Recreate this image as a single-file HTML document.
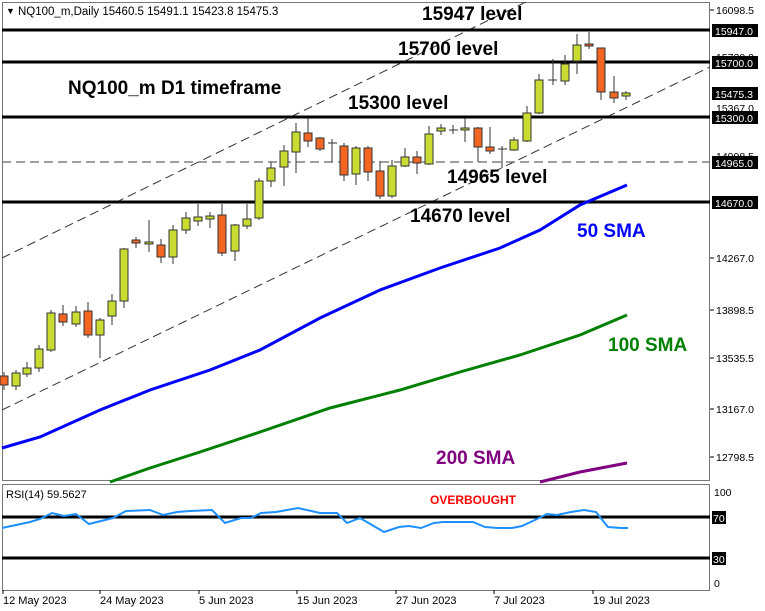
<!DOCTYPE html>
<html><head><meta charset="utf-8"><style>
html,body{margin:0;padding:0;background:#fff;}
svg{display:block;font-family:"Liberation Sans",sans-serif;}
.b{font-weight:bold;font-size:19px;fill:#000;}
.ax{font-size:10.5px;fill:#000;}
.bx{font-size:10.5px;fill:#fff;}
</style></head><body>
<svg width="765" height="611" viewBox="0 0 765 611" xmlns="http://www.w3.org/2000/svg">
<rect x="0" y="0" width="765" height="611" fill="#fff"/>
<!-- main panel -->
<rect x="2.5" y="2.5" width="707" height="478" fill="none" stroke="#777" stroke-width="1"/>
<text x="6" y="14" font-size="9">▼</text>
<text x="18" y="15" font-size="11.5" fill="#000">NQ100_m,Daily  15460.5 15491.1 15423.8 15475.3</text>

<!-- channel -->
<line x1="2" y1="258" x2="530" y2="0" stroke="#333" stroke-width="1" stroke-dasharray="9,5"/>
<line x1="2" y1="410" x2="710" y2="67" stroke="#333" stroke-width="1" stroke-dasharray="9,5"/>

<!-- levels -->
<line x1="2" y1="30" x2="710" y2="30" stroke="#000" stroke-width="3"/>
<line x1="2" y1="62" x2="710" y2="62" stroke="#000" stroke-width="3"/>
<line x1="2" y1="117" x2="710" y2="117" stroke="#000" stroke-width="3"/>
<line x1="2" y1="162" x2="710" y2="162" stroke="#666" stroke-width="1.2" stroke-dasharray="9,5"/>
<line x1="2" y1="202" x2="710" y2="202" stroke="#000" stroke-width="3"/>

<!-- SMAs -->
<polyline fill="none" stroke="#0000ff" stroke-width="3" points="2,448 40,437 100,410 150,390 210,370 260,350 320,318 380,290 440,268 500,248 540,230 580,205 627,185"/>
<polyline fill="none" stroke="#008000" stroke-width="3" points="110,482 150,468 200,452 260,432 330,408 400,390 460,372 520,355 580,335 627,315"/>
<polyline fill="none" stroke="#800080" stroke-width="3" points="540,482 580,472 627,463"/>

<!-- candles -->
<g stroke="#333" stroke-width="1">
<line x1="4" y1="372" x2="4" y2="390"/><rect x="0" y="376" width="8" height="9" fill="#f26522"/>
<line x1="16" y1="370" x2="16" y2="390"/><rect x="12" y="373" width="8" height="13" fill="#c8dc32"/>
<line x1="27" y1="362" x2="27" y2="377"/><rect x="23" y="368" width="8" height="6" fill="#c8dc32"/>
<line x1="39" y1="345" x2="39" y2="372"/><rect x="35" y="349" width="8" height="19" fill="#c8dc32"/>
<line x1="51" y1="310" x2="51" y2="352"/><rect x="47" y="313" width="8" height="37" fill="#c8dc32"/>
<line x1="63" y1="305" x2="63" y2="326"/><rect x="59" y="314" width="8" height="8" fill="#f26522"/>
<line x1="76" y1="306" x2="76" y2="327"/><rect x="72" y="312" width="8" height="12" fill="#c8dc32"/>
<line x1="88" y1="302" x2="88" y2="338"/><rect x="84" y="311" width="8" height="24" fill="#f26522"/>
<line x1="100" y1="318" x2="100" y2="358"/><rect x="96" y="320" width="8" height="15" fill="#c8dc32"/>
<line x1="112" y1="294" x2="112" y2="325"/><rect x="108" y="301" width="8" height="15" fill="#c8dc32"/>
<line x1="124" y1="248" x2="124" y2="308"/><rect x="120" y="249" width="8" height="52" fill="#c8dc32"/>
<line x1="136" y1="237" x2="136" y2="248"/><rect x="132" y="240" width="8" height="3" fill="#f26522"/>
<line x1="149" y1="220" x2="149" y2="252"/><rect x="145" y="242" width="8" height="2" fill="#c8dc32"/>
<line x1="161" y1="239" x2="161" y2="263"/><rect x="157" y="245" width="8" height="12" fill="#f26522"/>
<line x1="173" y1="225" x2="173" y2="264"/><rect x="169" y="230" width="8" height="27" fill="#c8dc32"/>
<line x1="186" y1="212" x2="186" y2="234"/><rect x="182" y="218" width="8" height="12" fill="#c8dc32"/>
<line x1="198" y1="204" x2="198" y2="226"/><rect x="194" y="217" width="8" height="4" fill="#c8dc32"/>
<line x1="210" y1="212" x2="210" y2="228"/><rect x="206" y="216" width="8" height="3" fill="#c8dc32"/>
<line x1="222" y1="204" x2="222" y2="256"/><rect x="218" y="215" width="8" height="38" fill="#f26522"/>
<line x1="235" y1="224" x2="235" y2="261"/><rect x="231" y="225" width="8" height="26" fill="#c8dc32"/>
<line x1="247" y1="204" x2="247" y2="229"/><rect x="243" y="219" width="8" height="7" fill="#c8dc32"/>
<line x1="259" y1="178" x2="259" y2="220"/><rect x="255" y="181" width="8" height="37" fill="#c8dc32"/>
<line x1="271" y1="162" x2="271" y2="187"/><rect x="267" y="168" width="8" height="13" fill="#c8dc32"/>
<line x1="284" y1="145" x2="284" y2="186"/><rect x="280" y="151" width="8" height="16" fill="#c8dc32"/>
<line x1="296" y1="123" x2="296" y2="173"/><rect x="292" y="132" width="8" height="20" fill="#c8dc32"/>
<line x1="308" y1="118" x2="308" y2="147"/><rect x="304" y="133" width="8" height="8" fill="#f26522"/>
<line x1="320" y1="137" x2="320" y2="151"/><rect x="316" y="138" width="8" height="11" fill="#f26522"/>
<line x1="332" y1="139" x2="332" y2="162"/><line x1="328" y1="143" x2="337" y2="143"/>
<line x1="344" y1="143" x2="344" y2="181"/><rect x="340" y="146" width="8" height="29" fill="#f26522"/>
<line x1="356" y1="146" x2="356" y2="185"/><rect x="352" y="148" width="8" height="26" fill="#c8dc32"/>
<line x1="368" y1="146" x2="368" y2="181"/><rect x="364" y="148" width="8" height="24" fill="#f26522"/>
<line x1="380" y1="161" x2="380" y2="199"/><rect x="376" y="171" width="8" height="25" fill="#f26522"/>
<line x1="392" y1="160" x2="392" y2="198"/><rect x="388" y="166" width="8" height="30" fill="#c8dc32"/>
<line x1="405" y1="148" x2="405" y2="167"/><rect x="401" y="157" width="8" height="9" fill="#c8dc32"/>
<line x1="417" y1="151" x2="417" y2="174"/><rect x="413" y="157" width="8" height="6" fill="#f26522"/>
<line x1="429" y1="126" x2="429" y2="165"/><rect x="425" y="134" width="8" height="30" fill="#c8dc32"/>
<line x1="441" y1="124" x2="441" y2="135"/><rect x="437" y="128" width="8" height="3" fill="#c8dc32"/>
<line x1="453" y1="125" x2="453" y2="134"/><line x1="449" y1="130" x2="458" y2="130"/>
<line x1="465" y1="118" x2="465" y2="142"/><rect x="461" y="128" width="8" height="2" fill="#c8dc32"/>
<line x1="478" y1="127" x2="478" y2="162"/><rect x="474" y="128" width="8" height="19" fill="#f26522"/>
<line x1="490" y1="127" x2="490" y2="154"/><rect x="486" y="147" width="8" height="4" fill="#f26522"/>
<line x1="502" y1="146" x2="502" y2="168"/><line x1="498" y1="149" x2="507" y2="149"/>
<line x1="514" y1="137" x2="514" y2="151"/><rect x="510" y="140" width="8" height="10" fill="#c8dc32"/>
<line x1="527" y1="106" x2="527" y2="142"/><rect x="523" y="113" width="8" height="28" fill="#c8dc32"/>
<line x1="539" y1="74" x2="539" y2="114"/><rect x="535" y="80" width="8" height="33" fill="#c8dc32"/>
<line x1="553" y1="59" x2="553" y2="85"/><line x1="548" y1="80" x2="557" y2="80"/>
<line x1="565" y1="55" x2="565" y2="85"/><rect x="561" y="64" width="8" height="17" fill="#c8dc32"/>
<line x1="577" y1="34" x2="577" y2="74"/><rect x="573" y="45" width="8" height="16" fill="#c8dc32"/>
<line x1="589" y1="32" x2="589" y2="49"/><rect x="585" y="44" width="8" height="2" fill="#f26522"/>
<line x1="601" y1="48" x2="601" y2="100"/><rect x="597" y="48" width="8" height="44" fill="#f26522"/>
<line x1="614" y1="76" x2="614" y2="103"/><rect x="610" y="92" width="8" height="6" fill="#f26522"/>
<line x1="626" y1="91" x2="626" y2="100"/><rect x="622" y="93" width="8" height="3" fill="#c8dc32"/>
</g>

<!-- labels -->
<text class="b" x="422" y="20">15947 level</text>
<text class="b" x="398" y="55">15700 level</text>
<text class="b" x="68" y="94" font-size="17.5">NQ100_m D1 timeframe</text>
<text class="b" x="348" y="109">15300 level</text>
<text class="b" x="447" y="183">14965 level</text>
<text class="b" x="410" y="222">14670 level</text>
<text class="b" x="577" y="237" fill="#0000ff" style="fill:#0000ff">50 SMA</text>
<text class="b" x="608" y="351" style="fill:#008000">100 SMA</text>
<text class="b" x="436" y="464" style="fill:#800080">200 SMA</text>

<!-- right axis -->
<g>
<line x1="710" y1="10" x2="714" y2="10" stroke="#000"/><text class="ax" x="716" y="14">16098.5</text>
<text class="ax" x="716" y="61">15730.0</text>
<text class="ax" x="716" y="112">15367.0</text>
<text class="ax" x="716" y="160">14998.5</text>
<text class="ax" x="716" y="207">14630.0</text>
<line x1="710" y1="258" x2="714" y2="258" stroke="#000"/><text class="ax" x="716" y="262">14267.0</text>
<line x1="710" y1="310" x2="714" y2="310" stroke="#000"/><text class="ax" x="716" y="314">13898.5</text>
<line x1="710" y1="358" x2="714" y2="358" stroke="#000"/><text class="ax" x="716" y="362">13535.5</text>
<line x1="710" y1="409" x2="714" y2="409" stroke="#000"/><text class="ax" x="716" y="413">13167.0</text>
<line x1="710" y1="457" x2="714" y2="457" stroke="#000"/><text class="ax" x="716" y="461">12798.5</text>
<rect x="712" y="24" width="46" height="13" fill="#000"/><text class="bx" x="715" y="35">15947.0</text>
<rect x="712" y="56" width="46" height="13" fill="#000"/><text class="bx" x="715" y="67">15700.0</text>
<rect x="712" y="87" width="46" height="13" fill="#000"/><text class="bx" x="715" y="98">15475.3</text>
<rect x="712" y="111" width="46" height="13" fill="#000"/><text class="bx" x="715" y="122">15300.0</text>
<rect x="712" y="156" width="46" height="13" fill="#000"/><text class="bx" x="715" y="167">14965.0</text>
<rect x="712" y="196" width="46" height="13" fill="#000"/><text class="bx" x="715" y="207">14670.0</text>
</g>

<!-- RSI panel -->
<rect x="2.5" y="484.5" width="707" height="106" fill="none" stroke="#777" stroke-width="1"/>
<text x="6" y="498" font-size="11" fill="#000">RSI(14) 59.5627</text>
<text x="430" y="504" font-size="12" font-weight="bold" fill="#ff0000">OVERBOUGHT</text>
<line x1="2" y1="517" x2="710" y2="517" stroke="#000" stroke-width="3"/>
<line x1="2" y1="558" x2="710" y2="558" stroke="#000" stroke-width="3"/>
<polyline fill="none" stroke="#1e90ff" stroke-width="2" points="2,528 30,522 40,519 52,513 64,516 76,514 89,524 113,518 126,511 150,510 163,515 177,512 190,511 212,510 225,523 241,518 251,518 261,513 276,512 298,508 320,513 337,513 347,523 360,518 384,532 399,527 409,526 421,528 434,523 443,522 473,522 485,527 498,528 512,528 522,526 537,519 547,514 557,515 571,512 584,510 596,512 608,527 621,528 628,528"/>
<text class="ax" x="714" y="496">100</text>
<rect x="712" y="511" width="14" height="13" fill="#000"/><text class="bx" x="713" y="522">70</text>
<rect x="712" y="552" width="14" height="13" fill="#000"/><text class="bx" x="713" y="563">30</text>
<text class="ax" x="714" y="587">0</text>

<!-- dates -->
<g font-size="11" fill="#000">
<line x1="3" y1="590" x2="3" y2="594" stroke="#000"/><text x="3" y="604">12 May 2023</text>
<line x1="100" y1="590" x2="100" y2="594" stroke="#000"/><text x="100" y="604">24 May 2023</text>
<line x1="199" y1="590" x2="199" y2="594" stroke="#000"/><text x="199" y="604">5 Jun 2023</text>
<line x1="297" y1="590" x2="297" y2="594" stroke="#000"/><text x="297" y="604">15 Jun 2023</text>
<line x1="396" y1="590" x2="396" y2="594" stroke="#000"/><text x="396" y="604">27 Jun 2023</text>
<line x1="494" y1="590" x2="494" y2="594" stroke="#000"/><text x="494" y="604">7 Jul 2023</text>
<line x1="593" y1="590" x2="593" y2="594" stroke="#000"/><text x="593" y="604">19 Jul 2023</text>
</g>
</svg>
</body></html>
